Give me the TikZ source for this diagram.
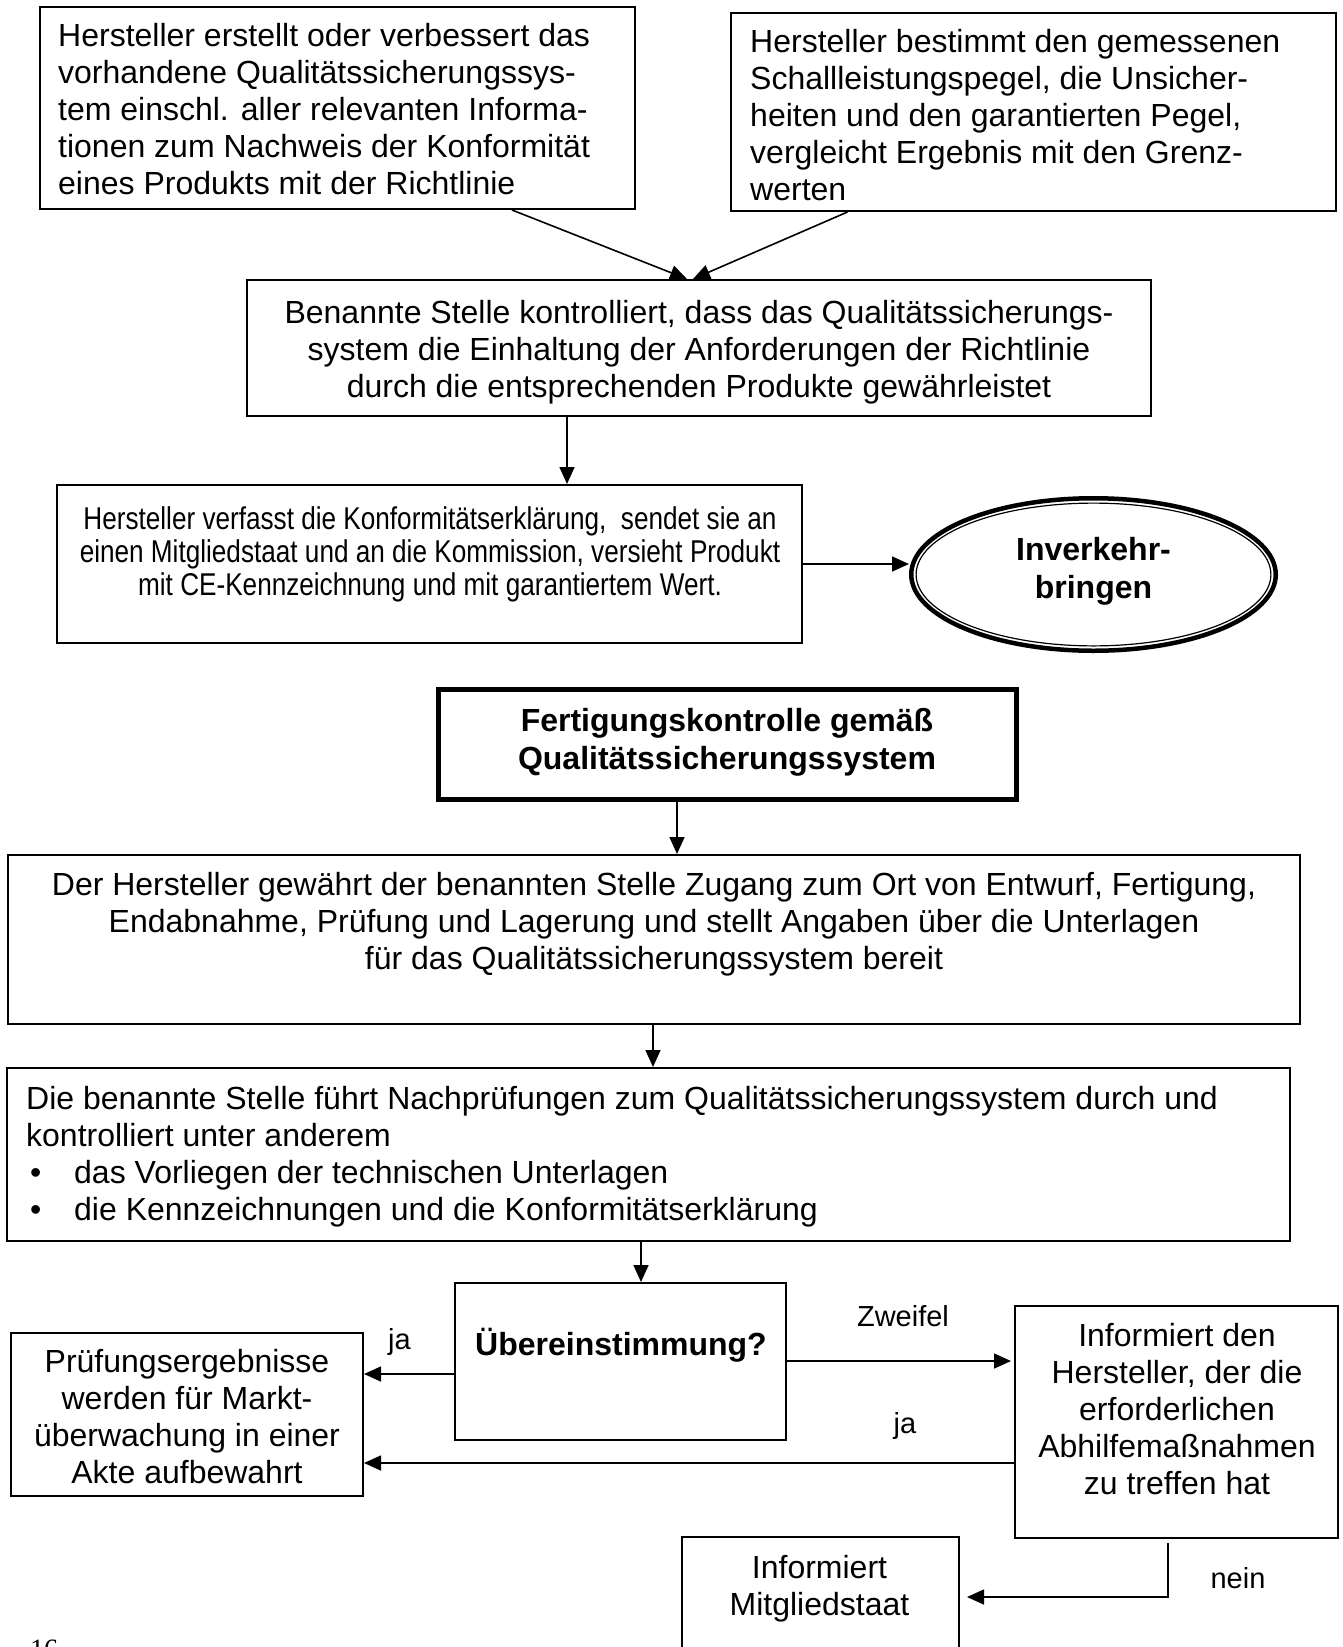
\documentclass[tikz,border=0pt]{standalone}
\usepackage{fontspec}
\setmainfont{Liberation Sans}
\newfontfamily\condfont{Liberation Sans}[FakeStretch=0.83]
\newfontfamily\pagefont{Liberation Serif}
\usetikzlibrary{arrows.meta,shapes.geometric}
\begin{document}
\begin{tikzpicture}[x=1pt,y=-1pt,
  box/.style={draw=black, line width=1.7pt, rectangle, inner sep=0pt},
  thickbox/.style={draw=black, line width=5pt, rectangle, inner sep=0pt},
  txt/.style={inner sep=0pt, font=\fontsize{32}{37}\selectfont},
  btxt/.style={inner sep=0pt, font=\fontsize{32}{37.5}\selectfont\bfseries},
  ctxt/.style={inner sep=0pt, font=\condfont\fontsize{31.5}{33}\selectfont},
  lbl/.style={inner sep=0pt, font=\fontsize{29}{33}\selectfont},
  arr/.style={line width=1.6pt, -{Triangle[length=17pt,width=15pt]}}
]
\fill[white] (0,0) rectangle (1343,1647);
\useasboundingbox (0,0) rectangle (1343,1647);

% boxes
\node[box, minimum width=595.3pt, minimum height=202.3pt] (b1) at (337.5,108) {};
\node[box, minimum width=605.3pt, minimum height=198.3pt] (b2) at (1033.5,112) {};
\node[box, minimum width=904.3pt, minimum height=136.3pt] (b3) at (699,348) {};
\node[box, minimum width=745.3pt, minimum height=158.3pt] (b4) at (429.5,564) {};
\node[ellipse, draw=black, line width=4.5pt, inner sep=0pt, minimum width=364.5pt, minimum height=152.5pt] (ell) at (1093.5,574.5) {};
\node[ellipse, draw=black, line width=1.2pt, inner sep=0pt, minimum width=354.8pt, minimum height=142.8pt] (ellin) at (ell.center) {};
\node[thickbox, minimum width=578pt, minimum height=110pt] (b5) at (727,744.5) {};
\node[box, minimum width=1292.3pt, minimum height=169.3pt] (b6) at (654,939.5) {};
\node[box, minimum width=1283.3pt, minimum height=173.3pt] (b7) at (648.5,1154.5) {};
\node[box, minimum width=331.3pt, minimum height=157.3pt] (b8) at (620.5,1361.5) {};
\node[box, minimum width=352.3pt, minimum height=163.3pt] (b9) at (187,1414.5) {};
\node[box, minimum width=323.3pt, minimum height=232.3pt] (b10) at (1176.5,1422) {};
\node[box, minimum width=277.3pt, minimum height=142pt] (b11) at (820.5,1608) {};

% texts
\node[txt, anchor=north west, align=left] (t1) at (58,20.5) {\strut Hersteller erstellt oder verbessert das\\vorhandene Qualitätssicherungssys-\\tem einschl. aller relevanten Informa-\\tionen zum Nachweis der Konformität\\eines Produkts mit der Richtlinie};
\node[txt, anchor=north west, align=left] (t2) at (750,26.5) {\strut Hersteller bestimmt den gemessenen\\Schallleistungspegel, die Unsicher-\\heiten und den garantierten Pegel,\\vergleicht Ergebnis mit den Grenz-\\werten};
\node[txt, anchor=north, align=center] (t3) at (699,297) {\strut Benannte Stelle kontrolliert, dass das Qualitätssicherungs-\\system die Einhaltung der Anforderungen der Richtlinie\\durch die entsprechenden Produkte gewährleistet};
\node[ctxt, anchor=north, align=center] (t4) at (430,506) {\strut Hersteller verfasst die Konformitätserklärung,\ \ sendet sie an\\einen Mitgliedstaat und an die Kommission, versieht Produkt\\mit CE-Kennzeichnung und mit garantiertem Wert.};
\node[btxt, anchor=north, align=center] (t5) at (1093.5,534.4) {\strut Inverkehr-\\bringen};
\node[btxt, anchor=north, align=center] (t6) at (727,705.5) {\strut Fertigungskontrolle gemäß\\Qualitätssicherungssystem};
\node[txt, anchor=north, align=center] (t7) at (654,869.5) {\strut Der Hersteller gewährt der benannten Stelle Zugang zum Ort von Entwurf, Fertigung,\\Endabnahme, Prüfung und Lagerung und stellt Angaben über die Unterlagen\\für das Qualitätssicherungssystem bereit};
\node[txt, anchor=north west, align=left] (t8) at (26,1083) {\strut Die benannte Stelle führt Nachprüfungen zum Qualitätssicherungssystem durch und\\kontrolliert unter anderem\\\makebox[48pt][l]{\hspace{4pt}•}das Vorliegen der technischen Unterlagen\\\makebox[48pt][l]{\hspace{4pt}•}die Kennzeichnungen und die Konformitätserklärung};
\node[btxt, anchor=base] (t9) at (621,1355) {Übereinstimmung?};
\node[txt, anchor=north, align=center] (t10) at (187,1346.4) {\strut Prüfungsergebnisse\\werden für Markt-\\überwachung in einer\\Akte aufbewahrt};
\node[txt, anchor=north, align=center] (t11) at (1177,1320) {\strut Informiert den\\Hersteller, der die\\erforderlichen\\Abhilfemaßnahmen\\zu treffen hat};
\node[txt, anchor=north, align=center] (t12) at (819.5,1552.4) {\strut Informiert\\Mitgliedstaat};

% labels
\node[lbl, anchor=base] (l1) at (399.5,1349.5) {ja};
\node[lbl, anchor=base] (l2) at (903,1326) {Zweifel};
\node[lbl, anchor=base] (l3) at (905,1433.5) {ja};
\node[lbl, anchor=base] (l4) at (1238,1588) {nein};

% page number
\node[inner sep=0pt, anchor=base west, font=\pagefont\fontsize{28}{32}\selectfont] (pg) at (30,1658) {16};

% connectors
\draw[arr] ([xshift=174.5pt]b1.south) -- ([xshift=-12pt]b3.north);
\draw[arr] ([xshift=-186pt]b2.south) -- ([xshift=-6pt]b3.north);
\draw[arr] ([xshift=-132pt]b3.south) -- ([xshift=-132pt]b3.south |- b4.north);
\draw[arr] (b4.east) -- (b4.east -| ell.west);
\draw[arr] ([xshift=-50pt]b5.south) -- ([xshift=-50pt]b5.south |- b6.north);
\draw[arr] ([xshift=-1pt]b6.south) -- ([xshift=-1pt]b6.south |- b7.north);
\draw[arr] ([xshift=-7.5pt]b7.south) -- ([xshift=-7.5pt]b7.south |- b8.north);
\draw[arr] ([yshift=-12.5pt]b8.west) -- ([yshift=-12.5pt]b8.west -| b9.east);
\draw[arr, shorten >=3pt] ([yshift=0.5pt]b8.east) -- ([yshift=0.5pt]b8.east -| b10.west);
\draw[arr] ([yshift=-41pt]b10.west) -- ([yshift=-41pt]b10.west -| b9.east);
\draw[arr, shorten <=4pt, shorten >=7pt] ([xshift=-8.5pt]b10.south) |- ([yshift=11pt]b11.east);
\end{tikzpicture}
\end{document}
